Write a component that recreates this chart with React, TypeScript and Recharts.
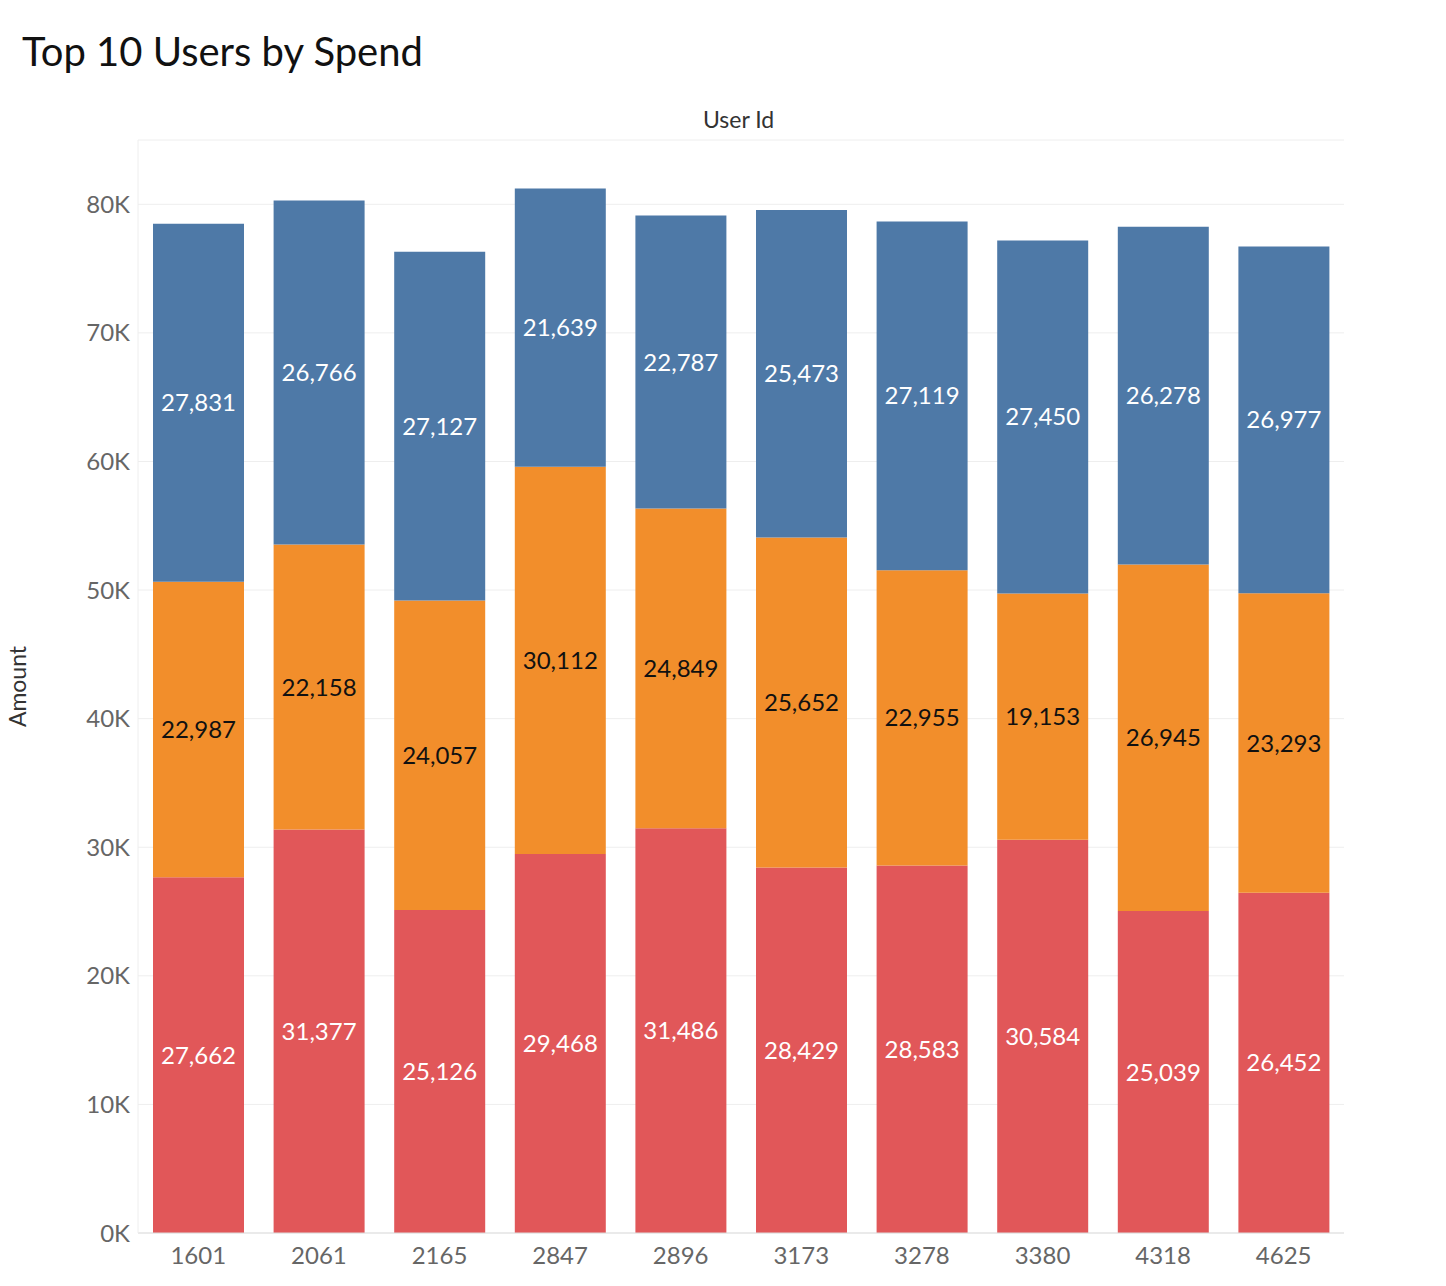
import { Bar, BarChart, CartesianGrid, LabelList, XAxis, YAxis } from "recharts";

const users = ["1601", "2061", "2165", "2847", "2896", "3173", "3278", "3380", "4318", "4625"];
const redValues = [27662, 31377, 25126, 29468, 31486, 28429, 28583, 30584, 25039, 26452];
const orangeValues = [22987, 22158, 24057, 30112, 24849, 25652, 22955, 19153, 26945, 23293];
const blueValues = [27831, 26766, 27127, 21639, 22787, 25473, 27119, 27450, 26278, 26977];
const yTicks = [0, 10000, 20000, 30000, 40000, 50000, 60000, 70000, 80000];

const data = users.map((u, i) => ({
  user: u,
  red: redValues[i],
  orange: orangeValues[i],
  blue: blueValues[i],
}));

const font = "Lato, 'Open Sans', sans-serif";
const fmt = (v: number) => v.toLocaleString("en-US");

export default function App() {
  return (
    <div
      style={{
        position: "relative",
        width: 1446,
        height: 1286,
        margin: -8,
        background: "#fff",
        fontFamily: font,
        boxSizing: "border-box",
        border: "3px solid #000",
        overflow: "hidden",
      }}
    >
      <div style={{ position: "absolute", left: 19, top: 24, fontSize: 40, color: "#111" }}>
        Top 10 Users by Spend
      </div>
      <div style={{ position: "absolute", left: 700, top: 102, fontSize: 23, color: "#333" }}>
        User Id
      </div>
      <div style={{ position: "absolute", left: -3, top: -3 }}>
        <BarChart
          width={1446}
          height={1286}
          data={data}
          barCategoryGap={15}
          margin={{ top: 140, right: 102, bottom: 0, left: 58 }}
        >
          <CartesianGrid vertical={false} stroke="#eeeeee" />
          <XAxis
            dataKey="user"
            height={53}
            tickLine={false}
            axisLine={{ stroke: "#ddd" }}
            tick={{ fill: "#666", fontSize: 24, fontFamily: font }}
            tickMargin={8}
          />
          <YAxis
            width={80}
            domain={[0, 85000]}
            ticks={yTicks}
            tickFormatter={(v: number) => `${v / 1000}K`}
            tickLine={false}
            axisLine={{ stroke: "#eee" }}
            tick={{ fill: "#666", fontSize: 24, fontFamily: font }}
            label={{
              value: "Amount",
              angle: -90,
              position: "insideLeft",
              offset: -40,
              style: { fill: "#333", fontSize: 23, fontFamily: font, textAnchor: "middle" },
            }}
          />
          <Bar dataKey="red" stackId="a" fill="#e15759" isAnimationActive={false}>
            <LabelList dataKey="red" position="center" formatter={fmt} fill="#fff" fontSize={24} fontFamily={font} />
          </Bar>
          <Bar dataKey="orange" stackId="a" fill="#f28e2b" isAnimationActive={false}>
            <LabelList dataKey="orange" position="center" formatter={fmt} fill="#111" fontSize={24} fontFamily={font} />
          </Bar>
          <Bar dataKey="blue" stackId="a" fill="#4e79a7" isAnimationActive={false}>
            <LabelList dataKey="blue" position="center" formatter={fmt} fill="#fff" fontSize={24} fontFamily={font} />
          </Bar>
        </BarChart>
      </div>
    </div>
  );
}
